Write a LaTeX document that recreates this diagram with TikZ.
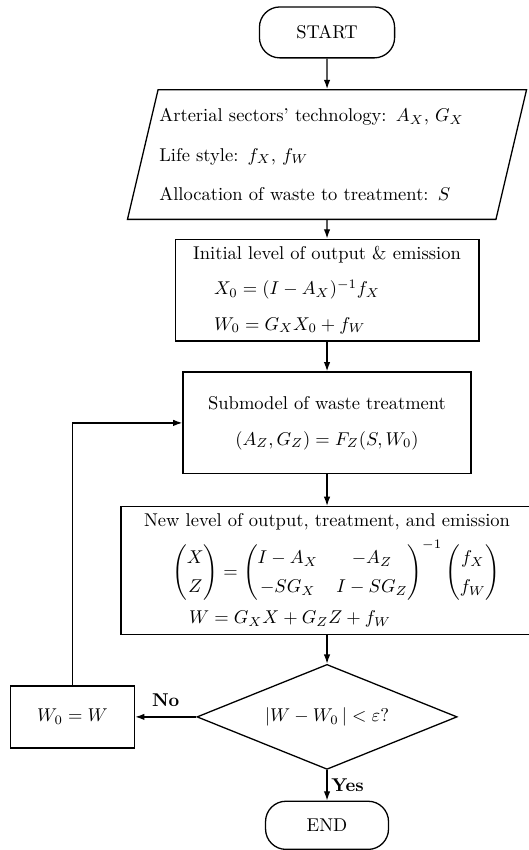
\documentclass[tikz,border=0pt]{standalone}
\usepackage{amsmath}
\usetikzlibrary{positioning, arrows.meta, shapes.geometric}

\begin{document}
\begin{tikzpicture}[
    node distance=16.5pt,
    line width=0.7pt,
    terminal/.style={draw, rounded corners=11pt, minimum width=73pt, minimum height=27.5pt, inner sep=2pt},
    io/.style={draw, trapezium, trapezium left angle=76, trapezium right angle=104,
               trapezium stretches body, minimum width=215.5pt, minimum height=70pt,
               inner xsep=0pt, inner ysep=8pt, text width=181pt, align=left},
    process/.style={draw, rectangle, align=center},
    decision/.style={draw, diamond, aspect=2.5, minimum width=140.5pt, minimum height=56.7pt, inner sep=1pt},
    arrow/.style={-{Latex[length=5pt, width=3.5pt]}},
    lbl/.style={font=\bfseries, inner sep=2pt},
]
\useasboundingbox (0,0) rectangle (285.66pt,-459pt);

\node[terminal] (start) at (176.6pt,-17.5pt) {START};
\node[io, below=of start] (input) {Arterial sectors' technology: $A_X$, $G_X$\\[9.5pt]
    Life style: $f_X$, $f_W$\\[9.5pt]
    Allocation of waste to treatment: $S$};
\node[process, below=10pt of input, minimum width=164pt, minimum height=55pt, inner ysep=1.5pt] (init)
    {Initial level of output \& emission\\[7pt]
     \makebox[122pt][l]{$X_0=(I-A_X)^{-1}f_X$}\\[7pt]
     \makebox[122pt][l]{$W_0=G_XX_0+f_W$}};
\node[process, below=16pt of init, minimum width=155.5pt, minimum height=55pt] (sub)
    {Submodel of waste treatment\\[7.5pt]
     $(A_Z,G_Z)=F_Z(S,W_0)$};
\node[process, below=17pt of sub, minimum width=222.5pt, minimum height=69pt, inner sep=1pt] (new)
    {New level of output, treatment, and emission\\[4pt]
     {\renewcommand\arraystretch{1.3}\hspace*{10pt}$\begin{pmatrix}X\\Z\end{pmatrix}=
      \begin{pmatrix}I-A_X & -A_Z\\-SG_X & I-SG_Z\end{pmatrix}^{-1}
      \begin{pmatrix}f_X\\f_W\end{pmatrix}$}\\[4pt]
     \makebox[149pt][l]{$W=G_XX+G_ZZ+f_W$}};
\node[decision, below=15.5pt of new] (test) {$|W-W_0\,|<\varepsilon$?};
\node[terminal, below=16.5pt of test, minimum width=66.4pt, minimum height=26pt] (end) {END};
\node[process, left=33pt of test, minimum width=67pt, minimum height=33.5pt] (upd) {$W_0=W$};

% Main flow
\foreach \a/\b in {start/input, input/init, init/sub, sub/new, new/test}{
    \draw[arrow] (\a) -- (\b);
}
\draw[arrow] (test) -- node[lbl, right] {Yes} (end);
\draw[arrow] (test) -- node[lbl, above=3pt] {No} (upd);

% Iteration loop
\draw[arrow] (upd) |- (sub);

\end{tikzpicture}
\end{document}
